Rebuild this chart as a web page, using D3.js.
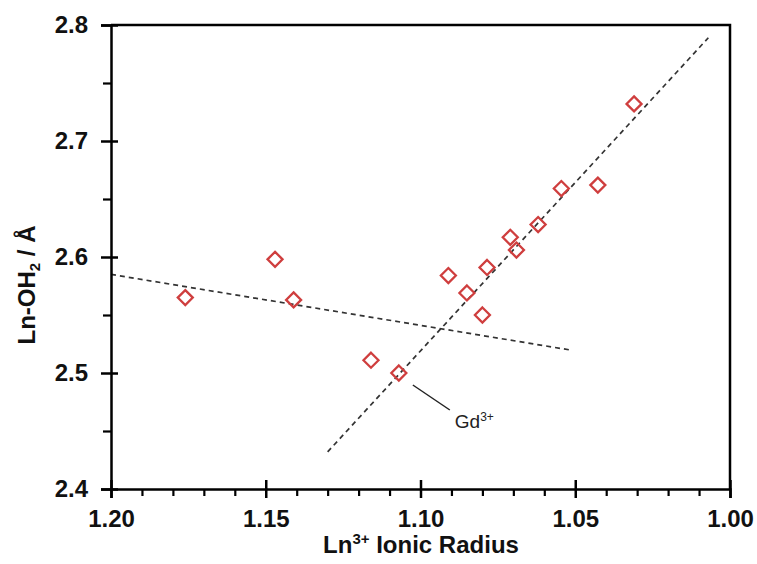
<!DOCTYPE html>
<html><head><meta charset="utf-8">
<script src="https://cdn.jsdelivr.net/npm/d3@7/dist/d3.min.js"></script>
<style>body{margin:0;background:#fff}svg{display:block}text{font-family:"Liberation Sans",Arial,sans-serif}</style>
</head><body><svg id="c" width="757" height="564"></svg>
<script>
// Data (Ln3+ ionic radius, Ln-OH2 distance)
const radius = [1.176, 1.147, 1.141, 1.116, 1.107, 1.091, 1.085, 1.080, 1.0785, 1.071, 1.069, 1.062, 1.0545, 1.0427, 1.031];
const distance = [2.565, 2.598, 2.563, 2.511, 2.500, 2.584, 2.569, 2.550, 2.591, 2.617, 2.606, 2.628, 2.659, 2.662, 2.732];
const fit1X = [1.200, 1.052];
const fit1Y = [2.585, 2.520];
const fit2X = [1.130, 1.007];
const fit2Y = [2.432, 2.789];
const xTicks = [1.20, 1.15, 1.10, 1.05, 1.00];
const yTicks = [2.4, 2.5, 2.6, 2.7, 2.8];
const xMinor = [1.19,1.18,1.17,1.16,1.14,1.13,1.12,1.11,1.09,1.08,1.07,1.06,1.04,1.03,1.02,1.01];
const yMinor = [2.45, 2.55, 2.65, 2.75];
const gdIndex = 4;

const svg = d3.select("#c");
const L = 111, R = 730, T = 25, B = 489;
const x = d3.scaleLinear().domain([1.20, 1.00]).range([L, R]);
const y = d3.scaleLinear().domain([2.4, 2.8]).range([B, T]);
const FF = '"Liberation Sans",Arial,sans-serif';

// fit lines
const lines = [[fit1X, fit1Y], [fit2X, fit2Y]];
lines.forEach(([fx, fy]) => {
  svg.append("line").attr("x1", x(fx[0])).attr("y1", y(fy[0])).attr("x2", x(fx[1])).attr("y2", y(fy[1]))
    .attr("stroke", "#333").attr("stroke-width", 1.7).attr("stroke-dasharray", "5,4");
});

// frame
svg.append("path").attr("d", `M${L},${T}H${R}V${B}`).attr("fill", "none").attr("stroke", "#000").attr("stroke-width", 2.5);

// axes
const yAxis = svg.append("g").attr("transform", `translate(${L},0)`)
  .call(d3.axisLeft(y).tickValues(yTicks).tickFormat(d3.format(".1f")).tickSize(10).tickPadding(13));
yAxis.select(".domain").attr("stroke-width", 2.5);
yAxis.selectAll(".tick line").attr("x1", 7).attr("stroke-width", 2.5);
yAxis.selectAll(".tick text").attr("font-size", 24).attr("font-weight", "bold").attr("fill", "#111")
  .attr("font-family", FF);
const yMin = svg.append("g").attr("transform", `translate(${L},0)`)
  .call(d3.axisLeft(y).tickValues(yMinor).tickFormat("").tickSize(8));
yMin.select(".domain").remove();
yMin.selectAll(".tick line").attr("stroke-width", 2.2);

const xAxis = svg.append("g").attr("transform", `translate(0,${B})`)
  .call(d3.axisBottom(x).tickValues(xTicks).tickFormat(d3.format(".2f")).tickSize(9).tickPadding(12));
xAxis.select(".domain").attr("stroke-width", 2.5);
xAxis.selectAll(".tick line").attr("y1", -9).attr("stroke-width", 2.5);
xAxis.selectAll(".tick text").attr("font-size", 24).attr("font-weight", "bold").attr("fill", "#111")
  .attr("font-family", FF);
const xMin = svg.append("g").attr("transform", `translate(0,${B})`)
  .call(d3.axisBottom(x).tickValues(xMinor).tickFormat("").tickSize(7));
xMin.select(".domain").remove();
xMin.selectAll(".tick line").attr("stroke-width", 2.2);

// markers
const pts = radius.map((r, i) => ({r, d: distance[i]}));
svg.append("g").selectAll("path").data(pts).join("path")
  .attr("transform", d => `translate(${x(d.r)},${y(d.d)})`)
  .attr("d", "M0,-7.5L7.5,0L0,7.5L-7.5,0Z")
  .attr("fill", "none").attr("stroke", "#cf3e3e").attr("stroke-width", 2.3);

// Gd annotation
const gx = x(radius[gdIndex]), gy = y(distance[gdIndex]);
svg.append("line").attr("x1", gx + 14).attr("y1", gy + 12).attr("x2", gx + 51).attr("y2", gy + 37)
  .attr("stroke", "#222").attr("stroke-width", 1.5);
const gt = svg.append("text").attr("x", gx + 56).attr("y", gy + 55).attr("font-size", 19).attr("fill", "#222");
gt.append("tspan").text("Gd");
gt.append("tspan").attr("font-size", 12).attr("dy", -7).text("3+");

// axis titles
const xt = svg.append("text").attr("x", 421).attr("y", 553).attr("text-anchor", "middle")
  .attr("font-size", 24).attr("font-weight", "bold").attr("fill", "#111");
xt.append("tspan").text("Ln");
xt.append("tspan").attr("font-size", 15).attr("dy", -9).text("3+");
xt.append("tspan").attr("dy", 9).text(" Ionic Radius");

const yt = svg.append("text").attr("transform", "translate(35,285) rotate(-90)").attr("text-anchor", "middle")
  .attr("font-size", 24).attr("font-weight", "bold").attr("fill", "#111");
yt.append("tspan").text("Ln-OH");
yt.append("tspan").attr("font-size", 15).attr("dy", 5).text("2");
yt.append("tspan").attr("dy", -5).text(" / Å");
</script></body></html>
